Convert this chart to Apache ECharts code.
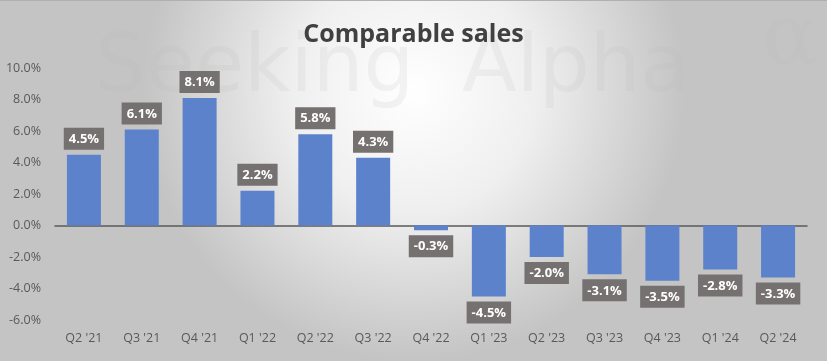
<!DOCTYPE html>
<html><head><meta charset="utf-8">
<script src="https://cdn.jsdelivr.net/npm/echarts@6/dist/echarts.min.js"></script>
<style>html,body{margin:0;padding:0;}#c{width:827px;height:361px;}</style>
</head><body><div id="c"></div>
<script>
const categories = ["Q2 '21","Q3 '21","Q4 '21","Q1 '22","Q2 '22","Q3 '22","Q4 '22","Q1 '23","Q2 '23","Q3 '23","Q4 '23","Q1 '24","Q2 '24"];
const comparableSales = [4.5, 6.1, 8.1, 2.2, 5.8, 4.3, -0.3, -4.5, -2.0, -3.1, -3.5, -2.8, -3.3];
const yTicks = {min: -6, max: 10, interval: 2};

const chart = echarts.init(document.getElementById('c'));
chart.setOption({
  animation: false,
  backgroundColor: {type:'radial', x:0.5, y:0.25, r:0.75,
    colorStops:[{offset:0,color:'#ffffff'},{offset:0.45,color:'#efefef'},{offset:1,color:'#c4c4c4'}]},
  title: {text:'Comparable sales', left:'center', top:17,
    textStyle:{fontFamily:'Open Sans', fontWeight:'bold', fontSize:25, color:'#404040'}},
  graphic: [
    {type:'rect', left:0, top:0, shape:{width:827, height:1}, style:{fill:'#b0b0b0'}, silent:true},
    {type:'text', left:95, top:30, silent:true, z:0,
      style:{text:'Seeking', font:'80px "DejaVu Sans"', fill:'rgba(185,185,185,0.16)'}},
    {type:'text', left:462, top:30, silent:true, z:0,
      style:{text:'Alpha', font:'80px "DejaVu Sans"', fill:'rgba(185,185,185,0.16)'}},
    {type:'text', left:762, top:0, silent:true, z:0,
      style:{text:'α', font:'84px "DejaVu Serif"', fill:'rgba(185,185,185,0.16)'}}],
  grid: {left:55, right:20, top:68, bottom:41},
  xAxis: [{type:'category', data:categories,
    axisLine:{show:true, onZero:true, lineStyle:{color:'#595959', width:1.5}},
    axisTick:{show:false}, axisLabel:{show:false}},
   {type:'category', data:categories, position:'bottom', offset:0,
    axisLine:{show:false}, axisTick:{show:false},
    axisLabel:{color:'#595959', fontFamily:'Open Sans', fontSize:12.5, margin:12}}],
  yAxis: {type:'value', min:yTicks.min, max:yTicks.max, interval:yTicks.interval,
    splitLine:{show:false}, axisLine:{show:false}, axisTick:{show:false},
    axisLabel:{color:'#595959', fontFamily:'Open Sans', fontSize:12.5, margin:14,
      formatter: v => v.toFixed(1) + '%'}},
  series: [{type:'bar', data: comparableSales.map(v => ({value:v,
      label:{position: v >= 0 ? 'top' : 'bottom'}})),
    barWidth:34,
    itemStyle:{color:'#5B82CB'},
    label:{show:true, distance:5, formatter: p => p.value.toFixed(1) + '%',
      backgroundColor:'#767171', color:'#ffffff', fontFamily:'Open Sans', fontWeight:'bold',
      fontSize:13, padding:[5,5,4,5]}
  }]
});
</script></body></html>
